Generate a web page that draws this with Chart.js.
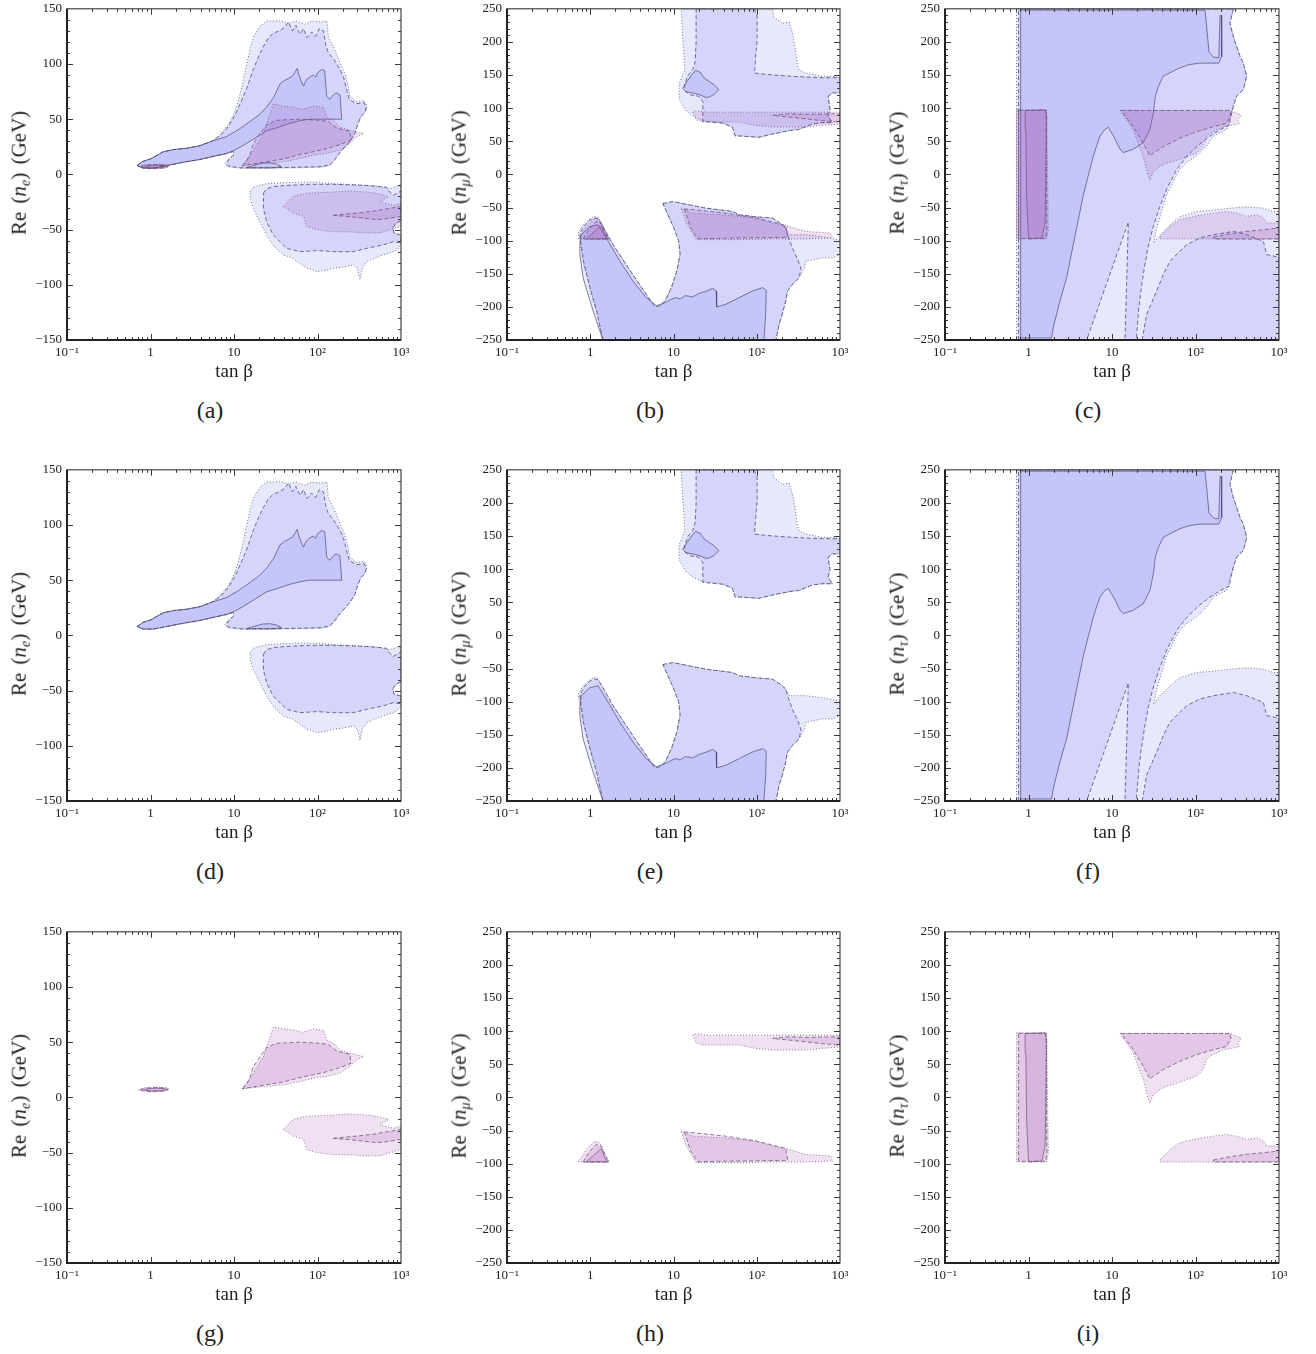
<!DOCTYPE html>
<html><head><meta charset="utf-8">
<script src="https://cdn.jsdelivr.net/npm/chart.js@4.4.1/dist/chart.umd.min.js"></script>
<style>
html,body{margin:0;padding:0;background:#fff;}
body{width:1316px;height:1354px;position:relative;overflow:hidden;font-family:"Liberation Serif",serif;color:#222;}
canvas{position:absolute;}
.yt{position:absolute;width:0;height:0;}
.yt span{position:absolute;left:0;top:0;transform:translate(-50%,-50%) rotate(-90deg);white-space:nowrap;font-size:21px;word-spacing:3px;}
.yt sub{font-size:68%;vertical-align:-0.25em;}
.lab{position:absolute;transform:translate(-50%,-50%);font-size:24px;white-space:nowrap;}
</style></head><body>
<script>
// ---------- axis ticks ----------
const X_TICKS = [0.1, 1, 10, 100, 1000];
const X_TICK_LABELS = ['10\u207B\u00B9', '1', '10', '10\u00B2', '10\u00B3'];
const Y_RANGE_E = [-150, 150];
const Y_RANGE_MT = [-250, 250];
const PANEL_LETTERS = ['(a)','(b)','(c)','(d)','(e)','(f)','(g)','(h)','(i)'];
const FLAVOURS = ['e', '\u03BC', '\u03C4'];

// ---------- flavour e : blue regions [tanβ, Re(n_e)] ----------
const E_B1_UP = [[0.69,8],[0.82,12],[1.0,14],[1.42,20.5],[1.88,22.5],[2.7,23.7],[3.9,26],[5.6,30.5],[6.8,36],[8.5,45],[10,55],[11.2,66],[12.5,80],[14.2,100],[16,117],[17.5,126],[20.5,134],[24.6,139],[35,139],[45,137],[55,139],[70,136],[85,139],[110,138],[130,139],[135,124],[155,116],[186,101],[210,92],[230,82],[245,71],[290,66],[360,67],[390,62],[375,57],[330,53],[300,45],[280,37],[245,30],[215,25],[186,20],[160,13],[140,8],[110,6.5],[60,6],[25,5.5],[12,5.5],[8.3,7],[7.8,10],[8.6,14],[10,18],[9.8,20.7],[8.2,19],[6.2,17],[3.9,13.5],[2.47,11],[1.56,8],[1.08,5.7],[0.82,5.7]];
const E_B2_UP = [[0.69,8],[0.82,12],[1.0,14],[1.42,20.5],[1.88,22.5],[2.7,23.7],[3.9,26],[5.6,30.5],[7,36],[8.5,43],[10.5,55],[12.5,68],[14.2,78],[17,95],[20,108],[22.5,116],[26,124],[29.6,128],[35,130],[40,133],[45,138],[50,130],[55,135],[62,127],[68,132],[75,124],[85,129],[95,125],[105,132],[118,130],[125,118],[135,110],[155,105],[186,95],[205,88],[223,77],[240,68],[290,64],[360,65],[385,61],[370,56],[330,52],[300,44],[280,37],[245,30],[215,25],[186,20],[160,13],[140,8.5],[110,7],[60,6.5],[25,6],[12,6],[8.6,7.5],[8.1,10],[8.8,14],[10,18],[9.8,20.7],[8.2,19],[6.2,17],[3.9,13.5],[2.47,11],[1.56,8],[1.08,5.7],[0.82,5.7]];
const E_B3_UP = [[0.69,8],[0.82,12],[1.0,14],[1.42,20.5],[1.88,22.5],[2.7,23.7],[3.9,26],[5.6,30.5],[8,34],[11,40],[15,47],[20,54],[24.6,61],[30,70],[35.6,82],[40,85],[45,87],[50,89],[54,93],[57,96],[60,90],[64,84],[68,80],[74,86],[80,88],[89,90],[95,88],[100,92],[112,95],[122,94],[126,80],[129,71],[140,68],[155,72],[167,74],[186,72],[195,50],[175,50],[155,50],[124,50],[100,50],[80,50],[61,48.5],[45,46],[35,43],[24.6,39.5],[17.1,32],[11.8,24.5],[9.8,21.5],[8.2,19],[6.2,17],[3.9,13.5],[2.47,11],[1.56,8],[1.08,5.7],[0.82,5.7]];
const E_B3_SMALL = [[14,6],[17,8],[22,10.3],[27,10.6],[32,9.5],[37,7],[30,6],[20,6]];
const E_B1_LOW = [[15.6,-16],[17.1,-11.6],[20,-10],[24.6,-8.5],[40,-7.5],[61.7,-7],[100,-7],[155,-8.5],[250,-9],[388,-10],[550,-11],[730,-13],[890,-11],[1000,-10],[1000,-42],[880,-44],[800,-48],[820,-53],[1000,-55],[1000,-64],[900,-68],[810,-70],[600,-73],[388,-79],[345,-85],[323,-95],[300,-85],[269,-82],[200,-84],[155,-85],[125,-87],[97,-88],[85,-86],[74,-85],[60,-80],[51,-76],[39,-73],[30,-65],[24.6,-55],[20.5,-43],[17.1,-31],[15.6,-22]];
const E_B2_LOW = [[22.5,-17],[24.6,-13],[30,-11],[42.7,-10],[80,-9],[155,-9],[250,-9.5],[400,-10],[674,-11.6],[730,-16],[810,-19],[1000,-15],[1000,-42],[880,-44],[800,-48],[820,-53],[1000,-55],[1000,-62],[810,-61],[600,-64],[388,-67],[269,-70],[155,-70],[100,-69],[61.7,-70],[42.7,-67],[29.6,-55],[24.6,-43],[22.5,-31]];

// ---------- flavour e : pink regions ----------
const E_P1_UP = [[12.4,7.6],[17.1,21.8],[22.5,36.8],[29.6,63.8],[39,62],[51,61],[67,59],[89,62],[107,61],[118,61],[129,52],[155,49],[186,43],[244,40],[356,37],[293,34],[244,28],[186,22],[129,19],[89,17.4],[61.7,14.4],[39,11.4],[24.6,10],[15.6,8.5]];
const E_P2_UP = [[12.8,8],[15,15],[17.1,28],[21,38],[24.6,45],[32,49],[62,50],[107,49],[134,48],[170,42],[244,39],[253,31],[186,27],[118,22.5],[61.7,18],[39,14],[20.5,10.5]];
const E_P1_EL = [[0.72,7],[0.85,8.8],[1.2,9.3],[1.6,8.8],[1.68,7],[1.45,5.5],[1.0,5],[0.8,5.8]];
const E_P2_EL = [[0.76,7],[0.88,8.4],[1.2,8.9],[1.55,8.4],[1.62,7],[1.42,5.8],[1.0,5.4],[0.82,6]];
const E_P3_EL = [[0.85,7],[0.95,8],[1.2,8.4],[1.5,7.8],[1.55,7],[1.35,6],[1.0,5.8],[0.9,6.3]];
const E_P1_LOW = [[39,-29],[51,-20],[74,-17],[155,-16],[244,-15],[388,-16],[510,-17],[710,-20],[560,-25],[810,-28],[1000,-26],[1000,-47],[560,-53],[388,-53],[244,-52],[155,-52],[97,-50],[74,-47],[68,-38],[51,-35]];
const E_P2_LOW = [[155,-37],[300,-35],[500,-33],[700,-31],[1000,-29],[1000,-38],[700,-40],[510,-41],[300,-39]];

// ---------- flavour mu : blue regions ----------
const M_B1_UP = [[12.4,250],[155,250],[160,238],[203,228],[245,230],[269,213],[292,188],[306,168],[323,158],[388,153],[610,148],[810,148],[1000,146],[1000,123],[810,123],[720,118],[760,98],[720,88],[810,78],[610,78],[467,76],[323,68],[245,66],[155,61],[107,56],[62,58],[55,58],[51,71],[39,78],[22.5,81],[17.1,88],[14.2,96],[11.8,113],[11.6,123],[11.8,138],[13.7,158],[13,200]];
const M_B2_UP = [[18.7,250],[94,250],[101,238],[101,203],[97,178],[94,153],[129,151],[269,148],[388,147],[610,146],[1000,146],[1000,123],[810,123],[720,118],[760,98],[720,88],[810,78],[610,78],[467,76],[323,68],[245,66],[155,61],[107,56],[62,58],[55,58],[51,71],[40,77],[22.5,80],[22.5,110],[20,118],[16,120],[14,125],[13.5,135],[15,150],[17,158],[18.2,170],[18.7,200]];
const M_B3_UP = [[12.9,130],[14.5,140],[16.5,150],[18.4,157],[21,154],[23.5,145],[27,140],[31,135],[35,128],[31,121],[27,117],[24.6,116],[21,120],[17,123],[14,125]];
const M_B1_LOW = [[7.45,-44],[9.8,-41],[15.5,-46],[24.6,-51],[51,-56],[62,-61],[98,-64],[155,-66],[203,-76],[223,-81],[244,-91],[388,-91],[610,-94],[1000,-99],[1000,-121],[810,-126],[610,-126],[388,-131],[373,-141],[323,-156],[269,-166],[234,-176],[223,-191],[203,-211],[186,-226],[170,-250],[1.42,-250],[1.19,-206],[0.99,-171],[0.82,-131],[0.75,-101],[0.71,-89],[0.82,-76],[0.99,-67],[1.13,-63],[1.24,-65],[1.42,-79],[1.88,-106],[2.7,-136],[3.9,-166],[5.2,-189],[5.9,-199],[6.8,-199],[8,-190],[9.5,-170],[11,-145],[12,-120],[11.5,-100],[10,-80],[8.5,-60]];
const M_B2_LOW = [[7.45,-44],[9.8,-41],[15.5,-46],[24.6,-51],[51,-56],[62,-61],[98,-64],[155,-66],[203,-76],[223,-81],[240,-95],[270,-112],[310,-128],[340,-142],[323,-156],[269,-166],[234,-176],[223,-191],[203,-211],[186,-226],[170,-250],[1.42,-250],[1.19,-206],[0.99,-171],[0.83,-131],[0.77,-101],[0.75,-90],[0.84,-78],[0.99,-69],[1.13,-66],[1.24,-67],[1.42,-79],[1.88,-106],[2.7,-136],[3.9,-166],[5.2,-189],[5.9,-199],[6.8,-199],[8,-190],[9.5,-170],[11,-145],[12,-120],[11.5,-100],[10,-80],[8.5,-60]];
const M_B3_LOW = [[0.75,-106],[0.78,-91],[0.99,-79],[1.24,-76],[1.56,-96],[2.27,-131],[3.26,-161],[4.7,-186],[6.2,-198],[7.5,-195],[9,-190],[10.5,-186],[12,-188],[14,-183],[17,-185],[20,-180],[25,-176],[29.6,-172],[32.5,-176],[33,-200],[42.7,-196],[61.7,-186],[89,-176],[118,-171],[130,-175],[128,-210],[122,-250],[1.42,-250],[1.08,-206],[0.82,-156],[0.75,-121]];

// ---------- flavour mu : pink regions ----------
const M_P1_UP = [[17.1,94],[18.7,82.5],[22.5,79],[39,79],[61.7,79],[97,74],[155,71.5],[388,71.5],[610,74],[1000,76],[1000,94],[388,94],[155,94],[61.7,94],[24.6,94],[18.7,96.5]];
const M_P2_UP = [[155,89],[244,91.5],[388,90.5],[1000,91.5],[1000,79],[610,81],[388,84],[244,86.5]];
const M_P1_LOW = [[12.4,-51],[17.1,-58.5],[39,-61],[97,-66],[155,-73.5],[244,-78.5],[388,-86],[770,-88.5],[810,-96],[388,-97.5],[155,-97.5],[62,-98.5],[18.7,-98.5],[14.2,-73.5]];
const M_P2_LOW = [[13.5,-52],[40,-58],[100,-66],[223,-77],[235,-95],[19.5,-97],[16,-80]];
const M_P1_TRI = [[0.72,-97.5],[0.9,-78.5],[1.13,-66],[1.3,-68.5],[1.7,-97.5]];
const M_P2_TRI = [[0.82,-97.5],[0.99,-81],[1.19,-71],[1.36,-73.5],[1.63,-97.5]];
const M_P3_TRI = [[0.9,-97.5],[1.19,-83.5],[1.36,-77.5],[1.5,-91],[1.63,-97.5]];

// ---------- flavour tau : blue regions ----------
const T_B1 = [[0.72,-250],[0.72,250],[284,250],[259,228],[284,208],[342,178],[374,168],[410,148],[374,128],[311,118],[284,103],[259,83],[236,68],[164,58],[136,43],[103,28],[78.5,18],[65,8],[54,-11],[45,-31],[39.4,-56],[34.3,-81],[31.6,-104],[37.6,-91],[49.5,-76],[65,-64],[103,-56],[164,-54],[259,-51],[410,-49],[649,-51],[855,-56],[1000,-56],[1000,-250]];
const T_B2_A = [[0.76,-250],[0.76,250],[284,250],[259,228],[284,208],[342,178],[374,168],[410,148],[374,128],[311,118],[284,103],[259,83],[259,75],[200,68],[150,58],[110,45],[80,28],[60,8],[46,-20],[37,-50],[31,-80],[27,-110],[24.5,-140],[22.5,-170],[21,-200],[19.5,-250],[14.3,-250],[15.7,-72],[4.97,-250]];
const T_B2_B = [[23,-250],[26,-211],[34.3,-176],[41.2,-151],[49.5,-131],[65,-116],[78.5,-106],[113,-96],[164,-91],[284,-86],[410,-91],[649,-101],[712,-121],[1000,-125],[1000,-250]];
const T_B3 = [[0.806,-247],[0.806,248],[130,248],[138,215],[145,185],[165,177],[190,176],[197,240],[204,240],[206,178],[190,168],[150,168],[113,168],[86,166],[65,161],[54,156],[41,148],[36,133],[33,118],[31.3,93],[28.5,68],[23.7,48],[18,38],[13.7,33],[12.5,38],[10.4,58],[9.04,71],[8.24,68],[7.18,58],[5.97,28],[4.54,-31],[3.77,-81],[2.86,-156],[2.38,-191],[1.98,-231],[1.89,-247]];

// ---------- flavour tau : pink regions ----------
const T_P1_RECT = [[0.72,97.5],[1.65,97.5],[1.73,-83.5],[1.65,-97.5],[0.72,-97.5]];
const T_P2_RECT = [[0.76,96.5],[1.62,96.5],[1.66,-85],[1.6,-96.5],[0.76,-96.5]];
const T_P3_RECT = [[0.91,96.5],[1.58,97.5],[1.65,86.5],[1.58,-73.5],[1.44,-96],[1.0,-97.5],[0.95,-33.5],[0.93,66.5]];
const T_P1_TRI = [[12.5,96.5],[259,96.5],[280,94.5],[355,89.5],[320,82],[341,77],[284,74.5],[215,72],[149,62],[136,57],[123,42],[103,32],[78.5,27],[54,19.5],[45,17],[37.6,12],[31.3,4.5],[28.5,-8.5],[27,-1],[23.7,26.5],[18,67]];
const T_P2_TRI = [[12.9,96.5],[259,96.5],[265,89.5],[236,77],[164,72],[103,64.5],[65,54.5],[41.2,42],[31.3,32],[28.5,28],[23.7,47],[18,72]];
const T_P1_LOW = [[37.6,-94.5],[49.5,-78.5],[65,-68.5],[103,-62.5],[164,-58.5],[236,-56],[311,-58.5],[410,-63.5],[555,-61],[649,-66],[712,-73.5],[1000,-73.5],[1000,-97.5],[37.6,-97.5]];
const T_P2_LOW = [[164,-94.5],[259,-89.5],[410,-86],[649,-83.5],[1000,-81],[1000,-97.5],[164,-97.5]];

// ---------- grouping by confidence level (outer, middle, inner) ----------
const BLUE = {
  e: [[E_B1_UP, E_B1_LOW], [E_B2_UP, E_B2_LOW], [E_B3_UP, E_B3_SMALL]],
  m: [[M_B1_UP, M_B1_LOW], [M_B2_UP, M_B2_LOW], [M_B3_UP, M_B3_LOW]],
  t: [[T_B1], [T_B2_A, T_B2_B], [T_B3]]
};
const PINK = {
  e: [[E_P1_UP, E_P1_LOW, E_P1_EL], [E_P2_UP, E_P2_LOW, E_P2_EL], [E_P3_EL]],
  m: [[M_P1_UP, M_P1_LOW, M_P1_TRI], [M_P2_UP, M_P2_LOW, M_P2_TRI], [M_P3_TRI]],
  t: [[T_P1_RECT, T_P1_TRI, T_P1_LOW], [T_P2_RECT, T_P2_TRI, T_P2_LOW], [T_P3_RECT]]
};

// ---------- styling / layout ----------
const FONT = '"Liberation Serif", "DejaVu Serif", serif';
const FILL = {blue: 'rgba(110,110,240,0.16)', pink: 'rgba(160,80,170,0.17)'};
const LINE = {blue: 'rgba(70,70,110,0.85)', pink: 'rgba(110,80,120,0.85)'};
const DASH = [[1, 2], [4, 2.5], []];
const COL_LEFT = [67, 507, 945];
const COL_PADR = [19, 20, 19];
const ROW_TOP = [6, 467, 929];
const PLOT_H = 334, YAXIS_W = 67, XAXIS_H = 52, PAD_T = 10, CW = 420;

function polyDataset(pts, level, hue) {
  const data = pts.map(p => ({x: p[0], y: p[1]}));
  data.push({x: pts[0][0], y: pts[0][1]});
  return {
    data, showLine: true, fill: 'shape', tension: 0,
    backgroundColor: FILL[hue], borderColor: LINE[hue],
    borderWidth: level === 2 ? 0.8 : 0.9, borderDash: DASH[level],
    pointRadius: 0, pointHoverRadius: 0
  };
}

const frameTicks = {
  id: 'frameTicks',
  afterDatasetsDraw(chart) {
    const {ctx, chartArea: a, scales: {x, y}} = chart;
    ctx.save();
    ctx.strokeStyle = '#3a3a3a';
    ctx.lineWidth = 1;
    ctx.beginPath();
    for (let d = 0; d < X_TICKS.length - 1; d++) {
      for (let k = 1; k <= 9; k++) {
        const v = X_TICKS[d] * k;
        if (v <= X_TICKS[0] || v >= X_TICKS[X_TICKS.length - 1]) continue;
        const px = Math.round(x.getPixelForValue(v)) + 0.5;
        const L = k === 1 ? 6 : 3;
        ctx.moveTo(px, a.bottom); ctx.lineTo(px, a.bottom - L);
        ctx.moveTo(px, a.top); ctx.lineTo(px, a.top + L);
      }
    }
    for (let v = y.min + 10; v < y.max; v += 10) {
      const py = Math.round(y.getPixelForValue(v)) + 0.5;
      const L = v % 50 === 0 ? 6 : 3;
      ctx.moveTo(a.left, py); ctx.lineTo(a.left + L, py);
      ctx.moveTo(a.right, py); ctx.lineTo(a.right - L, py);
    }
    ctx.stroke();
    ctx.lineWidth = 1.2;
    ctx.strokeStyle = '#444';
    ctx.strokeRect(a.left, a.top, a.right - a.left, a.bottom - a.top);
    ctx.lineWidth = 2;
    ctx.strokeStyle = '#222';
    ctx.beginPath();
    ctx.moveTo(a.left, a.top); ctx.lineTo(a.left, a.bottom); ctx.lineTo(a.right, a.bottom);
    ctx.stroke();
    ctx.restore();
  }
};

const FLAV_KEYS = ['e', 'm', 't'];
for (let row = 0; row < 3; row++) {
  for (let col = 0; col < 3; col++) {
    const idx = row * 3 + col;
    const fk = FLAV_KEYS[col];
    const yr = col === 0 ? Y_RANGE_E : Y_RANGE_MT;
    const left = COL_LEFT[col] - YAXIS_W;
    const top = ROW_TOP[row] - PAD_T;
    const H = PAD_T + PLOT_H + XAXIS_H;

    const ds = [];
    const useBlue = row !== 2, usePink = row !== 1;
    if (useBlue) BLUE[fk].forEach((polys, lvl) => polys.forEach(p => ds.push(polyDataset(p, lvl, 'blue'))));
    if (usePink) PINK[fk].forEach((polys, lvl) => polys.forEach(p => ds.push(polyDataset(p, lvl, 'pink'))));
    ds.reverse(); // first dataset is painted last by Chart.js

    const cv = document.createElement('canvas');
    cv.width = CW; cv.height = H;
    cv.style.left = left + 'px'; cv.style.top = top + 'px';
    document.body.appendChild(cv);

    new Chart(cv, {
      type: 'scatter',
      data: {datasets: ds},
      plugins: [frameTicks],
      options: {
        responsive: false, animation: false, events: [],
        layout: {padding: {top: PAD_T, right: COL_PADR[col], left: 0, bottom: 0}},
        plugins: {legend: {display: false}, tooltip: {enabled: false}, filler: {propagate: false}},
        scales: {
          x: {
            type: 'logarithmic', min: X_TICKS[0], max: X_TICKS[X_TICKS.length - 1],
            grid: {display: false, drawTicks: false}, border: {display: false},
            afterBuildTicks: s => { s.ticks = X_TICKS.map(v => ({value: v})); },
            afterFit: s => { s.height = XAXIS_H; },
            ticks: {
              autoSkip: false, maxRotation: 0, padding: 5, color: '#222',
              font: {family: FONT, size: 13},
              callback: v => { const i = X_TICKS.indexOf(v); return i >= 0 ? X_TICK_LABELS[i] : ''; }
            },
            title: {display: true, text: 'tan \u03B2', color: '#222', font: {family: FONT, size: 19}, padding: {top: 0, bottom: 9}}
          },
          y: {
            type: 'linear', min: yr[0], max: yr[1],
            grid: {display: false, drawTicks: false}, border: {display: false},
            afterFit: s => { s.width = YAXIS_W; },
            ticks: {
              stepSize: 50, padding: 5, color: '#222', font: {family: FONT, size: 13},
              callback: v => v < 0 ? '\u2212' + Math.abs(v) : String(v)
            }
          }
        }
      }
    });

    const yt = document.createElement('div');
    yt.className = 'yt';
    yt.style.left = (left + 20) + 'px';
    yt.style.top = (ROW_TOP[row] + PLOT_H / 2) + 'px';
    yt.innerHTML = '<span>Re (<i>n</i><sub><i>' + FLAVOURS[col] + '</i></sub>) (GeV)</span>';
    document.body.appendChild(yt);

    const lb = document.createElement('div');
    lb.className = 'lab';
    lb.style.left = (left + 210) + 'px';
    lb.style.top = (ROW_TOP[row] + 404) + 'px';
    lb.textContent = PANEL_LETTERS[idx];
    document.body.appendChild(lb);
  }
}
</script>
</body></html>
